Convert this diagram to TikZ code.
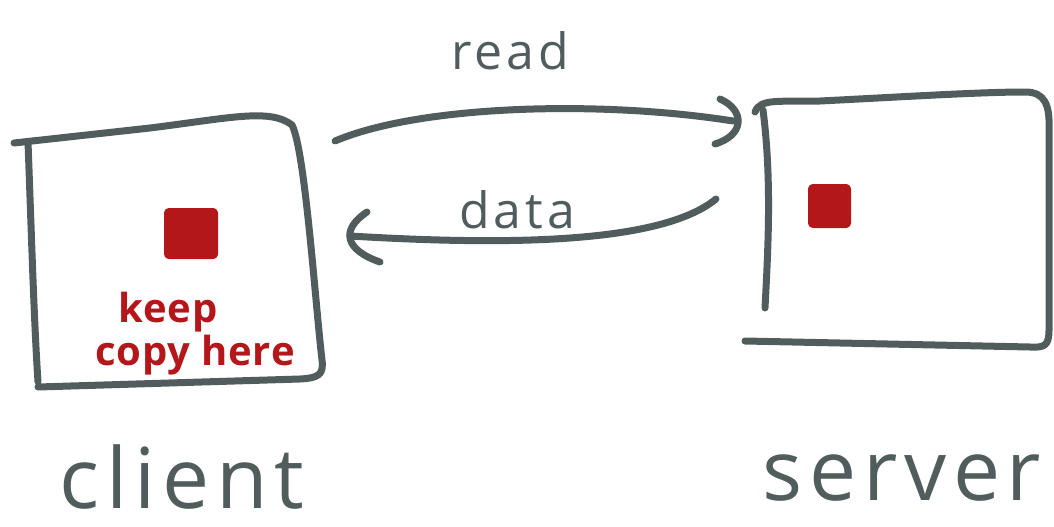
\documentclass[tikz,border=0pt]{standalone}
\usepackage{fontspec}
\setmainfont{Open Sans}
\newfontfamily\hand[LetterSpace=8]{Open Sans}
\newfontfamily\handred[LetterSpace=2]{Open Sans}
\definecolor{ink}{HTML}{515D5C}
\definecolor{pen}{HTML}{B3171A}
\begin{document}
\begin{tikzpicture}[x=1pt,y=-1pt,
  stroke/.style={draw=ink,line width=7pt,line cap=round,line join=round},
  redmark/.style={fill=pen,draw=pen,line width=4pt,line join=round,rounded corners=3pt},
  lbl/.style={text=ink,font=\hand\fontsize{50}{50}\selectfont,inner sep=0pt,anchor=base},
  big/.style={text=ink,font=\hand\fontsize{84}{84}\selectfont,inner sep=0pt,anchor=base},
  redtxt/.style={text=pen,font=\handred\bfseries\fontsize{40}{40}\selectfont,inner sep=0pt,anchor=base}]
\useasboundingbox (0,0) rectangle (1054,527);
% client box
\draw[stroke] (14,143) -- (150,128) .. controls (230,118) and (270,108) .. (292,125)
  .. controls (305,150) and (315,300) .. (322,360) .. controls (324,375) and (318,378) .. (300,379) -- (38,387);
\draw[stroke] (28,142) .. controls (32,250) and (34,320) .. (38,382);
\path[redmark] (166,210) rectangle (216,257);
\node[redtxt] (keep) at (168,322) {keep};
\node[redtxt] (copy) at (195,365) {copy here};
\node[big] (client) at (182,508) {client};
% server box
\draw[stroke] (755,112) .. controls (760,98) and (780,102) .. (820,101)
  .. controls (900,97) and (980,92) .. (1025,92) .. controls (1045,92) and (1050,105) .. (1049,130)
  -- (1049,330) .. controls (1049,345) and (1045,348) .. (1030,347) -- (745,341);
\draw[stroke] (763,110) .. controls (772,180) and (768,250) .. (765,308);
\path[redmark] (810,186) rectangle (849,226);
\node[big] (server) at (902,500) {server};
% arrows
\coordinate (r1) at (335,141);
\coordinate (r2) at (733,121);
\draw[stroke] (r1) .. controls (420,105) and (600,100) .. (r2);
\draw[stroke] (720,99) .. controls (745,110) and (745,135) .. (715,144);
\node[lbl] (read) at (510,70) {read};
\coordinate (d1) at (716,199);
\coordinate (d2) at (350,236);
\draw[stroke] (d1) .. controls (660,245) and (500,245) .. (d2);
\draw[stroke] (367,212) .. controls (340,230) and (345,250) .. (380,262);
\node[lbl] (data) at (517,228) {data};
\end{tikzpicture}
\end{document}
